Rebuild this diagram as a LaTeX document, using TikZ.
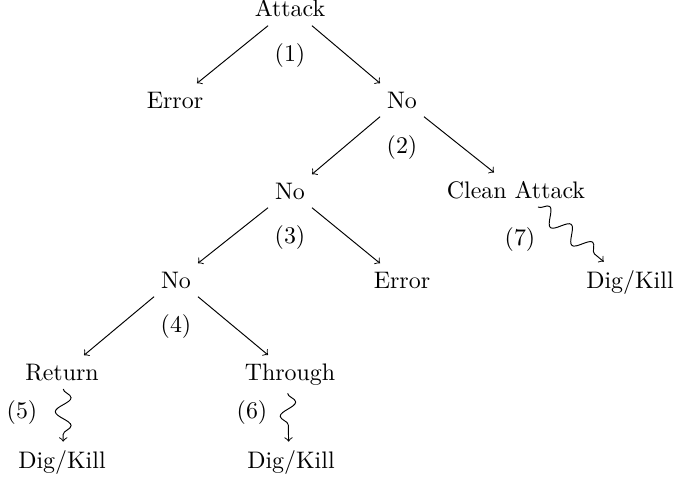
\documentclass[tikz,border=0pt]{standalone}
\usetikzlibrary{decorations.pathmorphing}
\begin{document}
\begin{tikzpicture}[x=0.4184pt,y=-0.4184pt,
  lbl/.style={anchor=base},
  edge/.style={->},
  wavy/.style={->,decorate,decoration={snake,amplitude=3.3pt,segment length=11.7pt,post length=1mm}}]
\useasboundingbox (0,0) rectangle (675,480);
% nodes
\node[lbl] (attack) at (290,17) {Attack};
\node[lbl] (l1) at (290,61) {(1)};
\node[lbl] (err1) at (175,108) {Error};
\node[lbl] (no1) at (402,108) {No};
\node[lbl] (l2) at (402,153) {(2)};
\node[lbl] (no2) at (290,199) {No};
\node[lbl] (clean) at (516,198) {Clean Attack};
\node[lbl] (l3) at (290,243) {(3)};
\node[lbl] (l7) at (520,245) {(7)};
\node[lbl] (no3) at (176,288) {No};
\node[lbl] (err2) at (402,288) {Error};
\node[lbl] (dk7) at (630,288) {Dig/Kill};
\node[lbl] (l4) at (176,332) {(4)};
\node[lbl] (ret) at (62,380) {Return};
\node[lbl] (thr) at (290,380) {Through};
\node[lbl] (l5) at (22,418) {(5)};
\node[lbl] (l6) at (252,418) {(6)};
\node[lbl] (dk5) at (62,468) {Dig/Kill};
\node[lbl] (dk6) at (291,468) {Dig/Kill};
% edges
\draw[edge] ([xshift=-9.2pt]attack.south) -- ([xshift=9.2pt]err1.north);
\draw[edge] ([xshift=9.2pt]attack.south) -- ([xshift=-9.2pt]no1.north);
\draw[edge] ([xshift=-9.2pt]no1.south) -- ([xshift=9.2pt]no2.north);
\draw[edge] ([xshift=9.2pt]no1.south) -- ([xshift=-9.2pt]clean.north);
\draw[edge] ([xshift=-9.2pt]no2.south) -- ([xshift=9.2pt]no3.north);
\draw[edge] ([xshift=9.2pt]no2.south) -- ([xshift=-9.2pt]err2.north);
\draw[edge] ([xshift=-9.2pt]no3.south) -- ([xshift=9.2pt]ret.north);
\draw[edge] ([xshift=9.2pt]no3.south) -- ([xshift=-9.2pt]thr.north);
\draw[wavy] ([xshift=9.2pt]clean.south) -- ([xshift=-11pt]dk7.north);
\draw[wavy] ([xshift=0.5pt]ret.south) -- ([xshift=0.5pt]dk5.north);
\draw[wavy] ([xshift=-1pt]thr.south) -- ([xshift=-1pt]dk6.north);
\end{tikzpicture}
\end{document}
